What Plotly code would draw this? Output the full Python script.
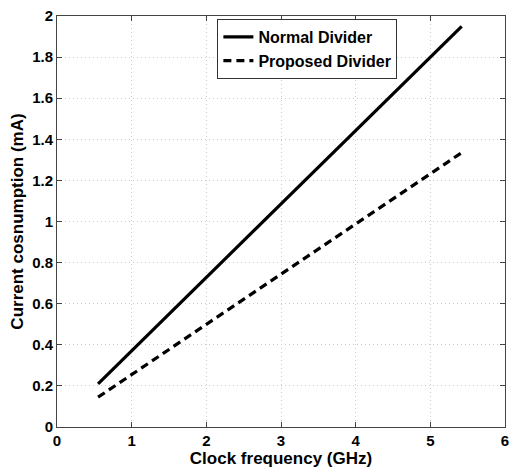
import plotly.graph_objects as go

freq = [0.55, 5.42]
normal = [0.21, 1.95]
proposed = [0.145, 1.335]
xticks = [0, 1, 2, 3, 4, 5, 6]
xtick_text = ["0", "1", "2", "3", "4", "5", "6"]
yticks = [0, 0.2, 0.4, 0.6, 0.8, 1, 1.2, 1.4, 1.6, 1.8, 2]
ytick_text = ["0", "0.2", "0.4", "0.6", "0.8", "1", "1.2", "1.4", "1.6", "1.8", "2"]

FONT = "Liberation Sans, Arial, sans-serif"

fig = go.Figure()
fig.add_trace(go.Scatter(x=freq, y=normal, mode="lines", name="<b>Normal Divider</b>",
                         line=dict(color="black", width=3.2)))
fig.add_trace(go.Scatter(x=freq, y=proposed, mode="lines", name="<b>Proposed Divider</b>",
                         line=dict(color="black", width=3.2, dash="8px,5px")))

axis_common = dict(showline=True, linecolor="#444", linewidth=1, mirror="ticks",
                   ticks="inside", ticklen=5, tickcolor="#444",
                   showgrid=True, gridcolor="#cccccc", griddash="1px,3px", gridwidth=1,
                   zeroline=False,
                   tickfont=dict(family=FONT, size=15, color="black", weight="bold"))

fig.update_xaxes(range=[0, 6], tickvals=xticks, ticktext=["<b>%s</b>" % t for t in xtick_text],
                 title=dict(text="<b>Clock frequency (GHz)</b>", standoff=3,
                            font=dict(family=FONT, size=17, color="black", weight="bold")),
                 **axis_common)
fig.update_yaxes(range=[0, 2], tickvals=yticks, ticktext=["<b>%s</b>" % t for t in ytick_text],
                 title=dict(text="<b>Current cosnumption (mA)</b>", standoff=4,
                            font=dict(family=FONT, size=17, color="black", weight="bold")),
                 **axis_common)

fig.update_layout(
    width=516, height=471,
    margin=dict(l=57, r=7, t=14, b=43),
    paper_bgcolor="white", plot_bgcolor="white",
    legend=dict(x=0.358, y=0.993, xanchor="left", yanchor="top",
                bordercolor="#333", borderwidth=1, bgcolor="white",
                font=dict(family=FONT, size=16, color="black", weight="bold"),
                tracegroupgap=0, itemwidth=30),
    showlegend=True,
)

fig.write_html("out.html")
